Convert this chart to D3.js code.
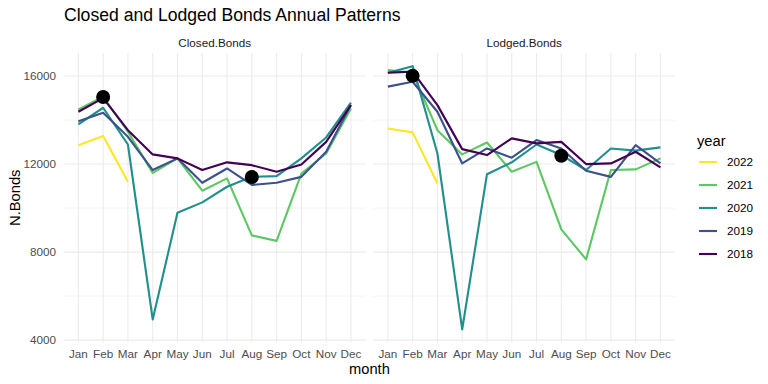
<!doctype html>
<html>
<head>
<meta charset="utf-8">
<script src="https://cdn.jsdelivr.net/npm/d3@7/dist/d3.min.js"></script>
<style>
  body { margin: 0; background: #fff; }
  text { font-family: "Liberation Sans", Arial, sans-serif; }
</style>
</head>
<body>
<div id="chart"></div>
<script>
const months = ["Jan","Feb","Mar","Apr","May","Jun","Jul","Aug","Sep","Oct","Nov","Dec"];
const years = ["2022","2021","2020","2019","2018"];
const colors = ["#FDE725","#5DC863","#21908C","#3B528B","#440154"];
const panels = ["Closed.Bonds","Lodged.Bonds"];
const yTicks = [4000, 8000, 12000, 16000];
const yMinor = [6000, 10000, 14000];

// Closed.Bonds per year
const closed2022 = [12860, 13280, 11200];
const closed2021 = [14480, 15060, 13470, 11600, 12260, 10790, 11350, 8760, 8510, 11570, 12480, 14530];
const closed2020 = [13800, 14560, 12890, 4940, 9790, 10260, 10970, 11420, 11450, 12260, 13210, 14790];
const closed2019 = [13950, 14330, 13240, 11730, 12260, 11150, 11800, 11050, 11150, 11420, 12560, 14680];
const closed2018 = [14380, 15000, 13540, 12440, 12260, 11730, 12080, 11950, 11650, 11980, 13010, 14680];

// Lodged.Bonds per year
const lodged2022 = [13620, 13440, 11120];
const lodged2021 = [16270, 16150, 13540, 12440, 12980, 11650, 12100, 9030, 7670, 11730, 11760, 12260];
const lodged2020 = [16150, 16450, 12480, 4490, 11540, 12080, 12890, 12410, 11730, 12710, 12610, 12760];
const lodged2019 = [15520, 15740, 14380, 12030, 12710, 12290, 13090, 12710, 11700, 11420, 12860, 12030];
const lodged2018 = [16150, 16200, 14680, 12680, 12410, 13170, 12940, 13010, 12000, 12030, 12560, 11850];

// highlighted points
const closedPointMonths = ["Feb", "Aug"];
const closedPointValues = [15050, 11410];
const lodgedPointMonths = ["Feb", "Aug"];
const lodgedPointValues = [16010, 12380];

const series = {
  "Closed.Bonds": [closed2022, closed2021, closed2020, closed2019, closed2018],
  "Lodged.Bonds": [lodged2022, lodged2021, lodged2020, lodged2019, lodged2018]
};
const points = {
  "Closed.Bonds": closedPointMonths.map((m, i) => ({month: m, value: closedPointValues[i]})),
  "Lodged.Bonds": lodgedPointMonths.map((m, i) => ({month: m, value: lodgedPointValues[i]}))
};

const W = 768, H = 384;
const svg = d3.select("#chart").append("svg")
  .attr("width", W).attr("height", H);

const panelX = [[63.5, 365.8], [373, 675.3]];
const plotTop = 53, plotBottom = 342.5;

const allVals = Object.values(series).flat(2);
const ext = d3.extent(allVals);
const pad = (ext[1] - ext[0]) * 0.05;
const y = d3.scaleLinear().domain([ext[0] - pad, ext[1] + pad]).range([plotBottom, plotTop]);

const color = d3.scaleOrdinal().domain(years).range(colors);

svg.append("text")
  .attr("x", 64).attr("y", 21)
  .attr("font-size", 17.6).attr("fill", "#000")
  .text("Closed and Lodged Bonds Annual Patterns");

panels.forEach((name, pi) => {
  const x = d3.scalePoint().domain(months).range(panelX[pi]).padding(0.6);
  const g = svg.append("g");

  // minor horizontal grid
  g.selectAll(".ymin").data(yMinor).join("line")
    .attr("x1", panelX[pi][0]).attr("x2", panelX[pi][1])
    .attr("y1", d => y(d)).attr("y2", d => y(d))
    .attr("stroke", "#ebebeb").attr("stroke-width", 0.55);
  // major grid
  g.selectAll(".ymaj").data(yTicks).join("line")
    .attr("x1", panelX[pi][0]).attr("x2", panelX[pi][1])
    .attr("y1", d => y(d)).attr("y2", d => y(d))
    .attr("stroke", "#ebebeb").attr("stroke-width", 1.07);
  g.selectAll(".xmaj").data(months).join("line")
    .attr("x1", d => x(d)).attr("x2", d => x(d))
    .attr("y1", plotTop).attr("y2", plotBottom)
    .attr("stroke", "#ebebeb").attr("stroke-width", 1.07);

  // strip label
  g.append("text")
    .attr("x", (panelX[pi][0] + panelX[pi][1]) / 2).attr("y", 47)
    .attr("text-anchor", "middle").attr("font-size", 11.7).attr("fill", "#1a1a1a")
    .text(name);

  // x axis labels
  g.selectAll(".xl").data(months).join("text")
    .attr("x", d => x(d)).attr("y", 358)
    .attr("text-anchor", "middle").attr("font-size", 11.7).attr("fill", "#4d4d4d")
    .text(d => d);

  const line = d3.line()
    .x((d, i) => x(months[i]))
    .y(d => y(d));

  series[name].forEach((vals, si) => {
    g.append("path")
      .datum(vals)
      .attr("d", line)
      .attr("fill", "none")
      .attr("stroke", color(years[si]))
      .attr("stroke-width", 2.13)
      .attr("stroke-linejoin", "round");
  });

  g.selectAll(".pt").data(points[name]).join("circle")
    .attr("cx", d => x(d.month)).attr("cy", d => y(d.value))
    .attr("r", 7).attr("fill", "#000");
});

// y axis labels
svg.selectAll(".yl").data(yTicks).join("text")
  .attr("x", 56).attr("y", d => y(d) + 4)
  .attr("text-anchor", "end").attr("font-size", 11.7).attr("fill", "#4d4d4d")
  .text(d => d);

svg.append("text")
  .attr("transform", "translate(20," + ((plotTop + plotBottom) / 2) + ") rotate(-90)")
  .attr("text-anchor", "middle").attr("font-size", 14.7).attr("fill", "#000")
  .text("N.Bonds");

svg.append("text")
  .attr("x", (panelX[0][0] + panelX[1][1]) / 2).attr("y", 374)
  .attr("text-anchor", "middle").attr("font-size", 14.7).attr("fill", "#000")
  .text("month");

// legend
const lg = svg.append("g");
lg.append("text")
  .attr("x", 697).attr("y", 146)
  .attr("font-size", 14.7).attr("fill", "#000")
  .text("year");
years.forEach((yr, i) => {
  const cy = 162 + i * 23;
  lg.append("line")
    .attr("x1", 699).attr("x2", 717).attr("y1", cy).attr("y2", cy)
    .attr("stroke", color(yr)).attr("stroke-width", 2.13);
  lg.append("text")
    .attr("x", 727).attr("y", cy + 4)
    .attr("font-size", 11.7).attr("fill", "#000")
    .text(yr);
});
</script>
</body>
</html>
